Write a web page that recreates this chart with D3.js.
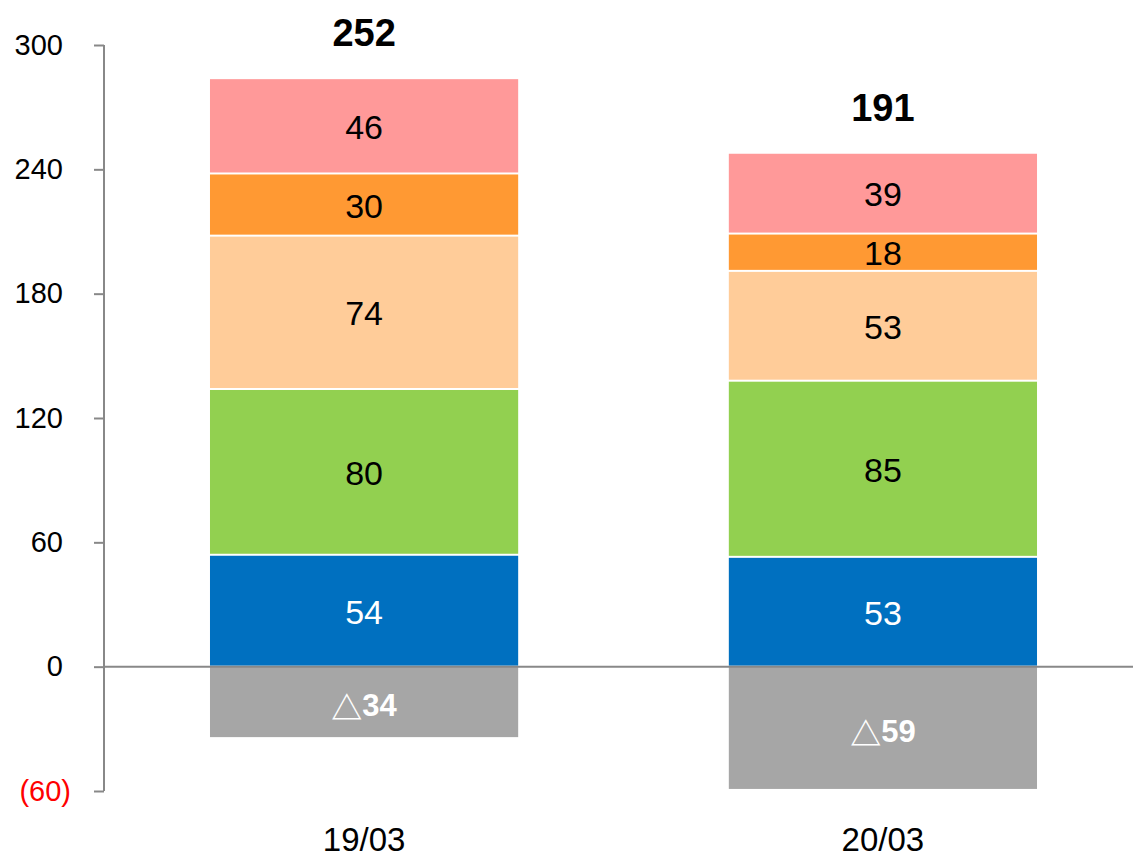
<!DOCTYPE html>
<html>
<head>
<meta charset="utf-8">
<style>
  body { margin: 0; background: #fff; }
  .tick text { font-family: "Liberation Sans", Arial, sans-serif; font-size: 29px; }
  .seg-label { font-family: "Liberation Sans", Arial, sans-serif; font-size: 34px; }
  .total { font-family: "Liberation Sans", Arial, sans-serif; font-size: 38px; font-weight: bold; }
  .xlab { font-family: "Liberation Sans", Arial, sans-serif; font-size: 33px; }
</style>
</head>
<body>
<div id="chart"></div>
<script src="https://cdn.jsdelivr.net/npm/d3@7"></script>
<script>
const categories = ['19/03', '20/03'];
const grayVals   = [-34, -59];
const blueVals   = [54, 53];
const greenVals  = [80, 85];
const peachVals  = [74, 53];
const orangeVals = [30, 18];
const pinkVals   = [46, 39];
const totals     = [252, 191];
const yTicks     = [-60, 0, 60, 120, 180, 240, 300];

// stacking order bottom -> top for the positive part
const series = [
  { vals: blueVals,   color: '#0070C0', text: '#fff' },
  { vals: greenVals,  color: '#92D050', text: '#000' },
  { vals: peachVals,  color: '#FFCC99', text: '#000' },
  { vals: orangeVals, color: '#FF9933', text: '#000' },
  { vals: pinkVals,   color: '#FF9999', text: '#000' }
];

const W = 1133, H = 857;
const axisX = 104;

const svg = d3.select('#chart').append('svg')
  .attr('width', W).attr('height', H);

const y = d3.scaleLinear().domain([-60, 300]).range([791, 45]);
const x = d3.scaleBand().domain(categories)
  .range([114, W]).paddingInner(0.406).paddingOuter(0.185);

// segments
const segs = [];
categories.forEach((c, i) => {
  let base = 0;
  series.forEach(s => {
    segs.push({ c, y0: base, y1: base + s.vals[i], v: s.vals[i], color: s.color, text: s.text });
    base += s.vals[i];
  });
  segs.push({ c, y0: grayVals[i], y1: 0, v: grayVals[i], color: '#A6A6A6', text: '#fff', neg: true });
});

svg.selectAll('rect.seg').data(segs).enter().append('rect')
  .attr('class', 'seg')
  .attr('x', d => x(d.c))
  .attr('width', x.bandwidth())
  .attr('y', d => y(d.y1) + (d.neg ? 0 : 1))
  .attr('height', d => y(d.y0) - y(d.y1) - (d.neg ? 0 : 2))
  .attr('fill', d => d.color);

const labels = svg.selectAll('text.seg-label').data(segs).enter().append('text')
  .attr('class', 'seg-label')
  .attr('x', d => x(d.c) + x.bandwidth() / 2)
  .attr('y', d => (y(d.y0) + y(d.y1)) / 2 + (d.neg ? 3 : 1))
  .attr('text-anchor', 'middle')
  .attr('dominant-baseline', 'central')
  .attr('fill', d => d.text);

labels.filter(d => !d.neg).text(d => d.v);
labels.filter(d => d.neg).each(function (d) {
  const t = d3.select(this);
  t.append('tspan')
    .style('font-family', '"Noto Sans CJK JP", sans-serif')
    .style('font-size', '31px')
    .style('font-weight', 'bold')
    .text('△');
  t.append('tspan')
    .style('font-weight', 'bold')
    .style('font-size', '31px')
    .text(Math.abs(d.v));
});

// totals above bars
svg.selectAll('text.total').data(categories).enter().append('text')
  .attr('class', 'total')
  .attr('x', c => x(c) + x.bandwidth() / 2)
  .attr('y', (c, i) => y(d3.sum(series, s => s.vals[i])) - 32)
  .attr('text-anchor', 'middle')
  .text((c, i) => totals[i]);

// y axis
const yAxis = svg.append('g')
  .attr('transform', `translate(${axisX},0)`)
  .call(d3.axisLeft(y).tickValues(yTicks).tickSize(10).tickSizeOuter(0)
    .tickFormat(v => v < 0 ? `(${Math.abs(v)})` : v));
yAxis.select('.domain').attr('stroke', '#888').attr('stroke-width', 2)
  .attr('d', `M0,${y(-60)}V${y(300)}`);
yAxis.selectAll('.tick line').attr('stroke', '#888').attr('stroke-width', 2);
yAxis.selectAll('.tick text')
  .attr('x', v => v < 0 ? -33 : -41)
  .attr('fill', v => v < 0 ? '#FF0000' : '#000');

// zero line
svg.append('line')
  .attr('x1', axisX).attr('x2', W)
  .attr('y1', y(0)).attr('y2', y(0))
  .attr('stroke', '#888').attr('stroke-width', 2);

// category labels
svg.selectAll('text.xlab').data(categories).enter().append('text')
  .attr('class', 'xlab')
  .attr('x', c => x(c) + x.bandwidth() / 2)
  .attr('y', 851)
  .attr('text-anchor', 'middle')
  .text(c => c);
</script>
</body>
</html>
